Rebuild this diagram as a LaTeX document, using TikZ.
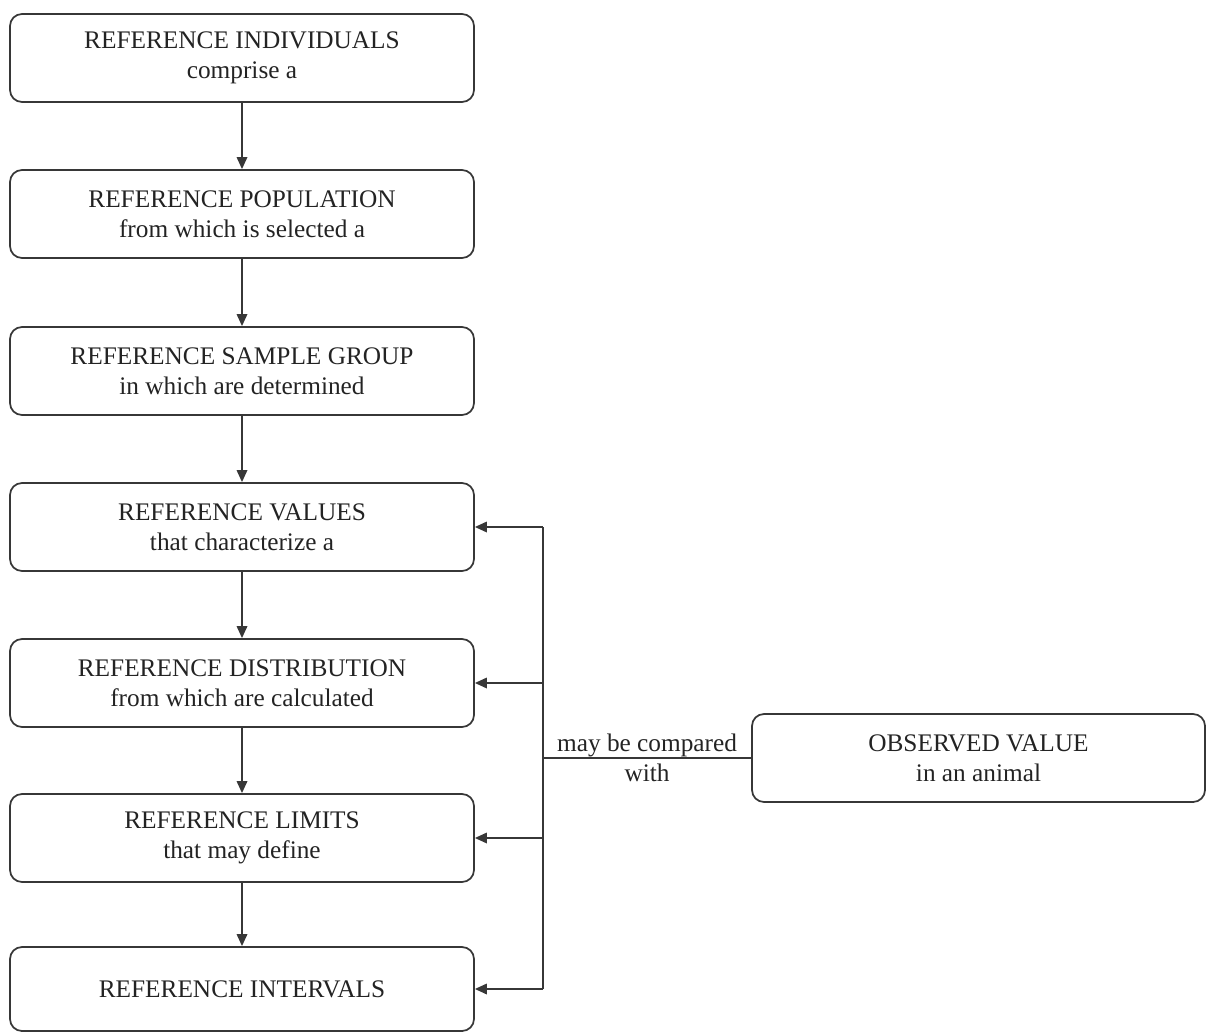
\documentclass[tikz,border=0pt]{standalone}
\usepackage{fontspec}
\setmainfont{Liberation Serif}
\usetikzlibrary{arrows.meta}
\definecolor{rfLine}{RGB}{55,55,55}
\definecolor{rfText}{RGB}{35,35,35}
\tikzset{
    base/.style={font=\fontsize{14.4}{17}\selectfont, align=center, text=rfText},
    refbox/.style={base, rectangle, rounded corners=2.4mm, draw=rfLine, line width=1pt,
                   minimum width=9.28cm, minimum height=1.76cm, inner sep=0pt},
    link/.style={line width=1pt, color=rfLine},
    flow/.style={link, -{Triangle[length=2.4mm,width=2.1mm]}},
    label/.style={base, inner sep=0pt}
}
\begin{document}
\begin{tikzpicture}
  \useasboundingbox (0,0) rectangle (24.12,-20.64);

  % Reference chain
  \node[refbox] (indiv) at (4.84,-1.16) {REFERENCE INDIVIDUALS\\comprise a};
  \node[refbox] (popul) at (4.84,-4.28) {REFERENCE POPULATION\\from which is selected a};
  \node[refbox] (sample) at (4.84,-7.42) {REFERENCE SAMPLE GROUP\\in which are determined};
  \node[refbox] (values) at (4.84,-10.54) {REFERENCE VALUES\\that characterize a};
  \node[refbox] (distrib) at (4.84,-13.66) {REFERENCE DISTRIBUTION\\from which are calculated};
  \node[refbox] (limits) at (4.84,-16.76) {REFERENCE LIMITS\\that may define};
  \node[refbox, minimum height=1.68cm] (interv) at (4.84,-19.78) {REFERENCE INTERVALS};

  \draw[flow] (indiv) -- (popul);
  \draw[flow] (popul) -- (sample);
  \draw[flow] (sample) -- (values);
  \draw[flow] (values) -- (distrib);
  \draw[flow] (distrib) -- (limits);
  \draw[flow] (limits) -- (interv);

  % Observed value and comparison
  \node[refbox, minimum width=9.06cm] (observed) at (19.57,-15.16) {OBSERVED VALUE\\in an animal};
  \coordinate (bus) at (10.86,0);

  \draw[link] (bus |- values.east) -- (bus |- interv.east);
  \draw[link] (observed.west) -- (bus |- observed.west)
    node[label, midway] {may be compared\\with};

  \draw[flow] (bus |- values.east) -- (values.east);
  \draw[flow] (bus |- distrib.east) -- (distrib.east);
  \draw[flow] (bus |- limits.east) -- (limits.east);
  \draw[flow] (bus |- interv.east) -- (interv.east);
\end{tikzpicture}
\end{document}
